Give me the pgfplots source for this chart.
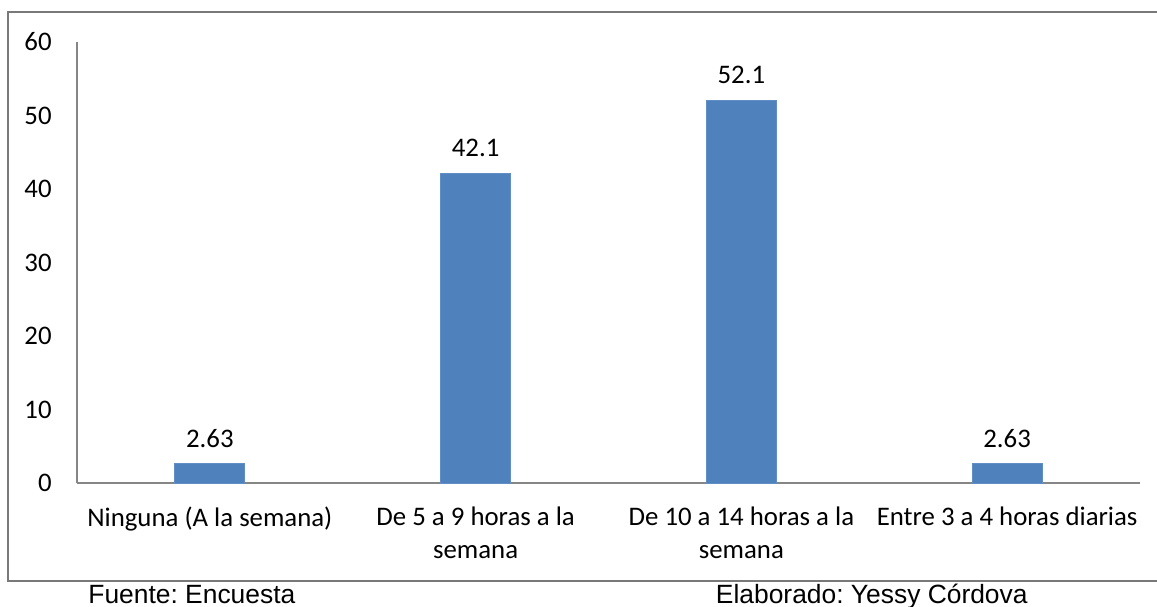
\documentclass[border=0pt]{standalone}
\usepackage{pgfplots}
\pgfplotsset{compat=1.18}
\usepackage{fontspec}
\setmainfont{Carlito}
\newfontfamily\arial{Liberation Sans}
\definecolor{barblue}{HTML}{4F81BD}
\definecolor{axgray}{HTML}{868686}
\begin{document}
\frenchspacing
\fontsize{13.3pt}{16.5pt}\selectfont
\begin{tikzpicture}[x=0.5pt,y=0.5pt]
\useasboundingbox (0,0) rectangle (1157,606);
\draw[color=axgray!90!black, line width=0.75pt] (8,594) rectangle (1162,25);
\coordinate (O) at (77,123);
\begin{axis}[
  at={(O)}, anchor=south west,
  scale only axis, width=531.5pt, height=220.5pt,
  xmin=-0.5, xmax=3.5, ymin=0, ymax=60,
  axis lines=left, axis line style={color=axgray, line width=0.75pt, -},
  ytick={0,10,...,60}, xtick={0,1,2,3},
  major tick length=0pt,
  xticklabels={Ninguna (A la semana), {De 5 a 9 horas a la\\semana}, {De 10 a 14 horas a la\\semana}, Entre 3 a 4 horas diarias},
  xticklabel style={align=center, anchor=north, inner sep=0pt, yshift=-11.5pt, font=\fontsize{13.4pt}{16.5pt}\selectfont},
  yticklabel style={anchor=east, inner sep=0pt, xshift=-12.5pt, font=\fontsize{13.4pt}{16.5pt}\selectfont},
  /pgf/number format/assume math mode=true,
  ybar, bar width=35pt,
  nodes near coords,
  nodes near coords style={anchor=south, inner sep=0pt, yshift=8pt, font=\fontsize{13.4pt}{16.5pt}\selectfont, /pgf/number format/precision=2},
  clip=false,
]
\addplot[fill=barblue, draw=barblue!90!white] coordinates {(0,2.63) (1,42.1) (2,52.1) (3,2.63)};
\end{axis}
\node[anchor=base west, inner sep=0pt, font={\arial\fontsize{13.2pt}{16pt}\selectfont}] at (88,3) {Fuente: Encuesta};
\node[anchor=base east, inner sep=0pt, font={\arial\fontsize{13.2pt}{16pt}\selectfont}] at (1028,3) {Elaborado: Yessy Córdova};
\end{tikzpicture}
\end{document}
